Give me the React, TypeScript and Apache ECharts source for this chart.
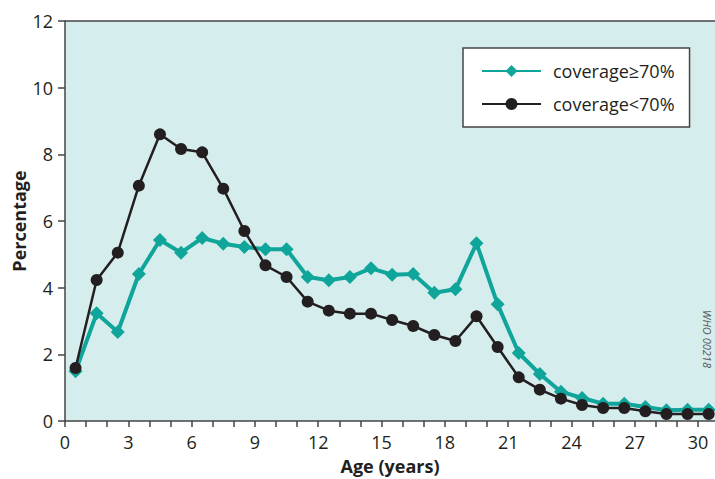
import React, { useEffect, useRef } from "react";
import * as echarts from "echarts";

const ages = [0.5, 1.5, 2.5, 3.5, 4.5, 5.5, 6.5, 7.5, 8.5, 9.5, 10.5, 11.5, 12.5, 13.5, 14.5, 15.5, 16.5, 17.5, 18.5, 19.5, 20.5, 21.5, 22.5, 23.5, 24.5, 25.5, 26.5, 27.5, 28.5, 29.5, 30.5];
const coverageHigh = [1.49, 3.23, 2.67, 4.41, 5.43, 5.05, 5.49, 5.32, 5.22, 5.15, 5.15, 4.32, 4.22, 4.32, 4.58, 4.39, 4.41, 3.85, 3.95, 5.33, 3.5, 2.04, 1.41, 0.88, 0.69, 0.52, 0.52, 0.42, 0.32, 0.34, 0.34];
const coverageLow = [1.59, 4.23, 5.05, 7.06, 8.6, 8.16, 8.06, 6.97, 5.7, 4.67, 4.32, 3.58, 3.31, 3.22, 3.22, 3.03, 2.85, 2.58, 2.4, 3.14, 2.22, 1.31, 0.94, 0.67, 0.48, 0.39, 0.39, 0.29, 0.21, 0.21, 0.21];
const xLabelValues = [0, 3, 6, 9, 12, 15, 18, 21, 24, 27, 30];
const xTickValues = [0, 1, 2, 3, 4, 5, 6, 7, 8, 9, 10, 11, 12, 13, 14, 15, 16, 17, 18, 19, 20, 21, 22, 23, 24, 25, 26, 27, 28, 29, 30];
const seriesNames = ["coverage\u226570%", "coverage<70%"];

const TEAL = "#10a59a";
const DARK = "#231f20";
const AXIS = "#444444";
const FONT = "'Open Sans', 'Noto Sans', sans-serif";

export default function App() {
  const ref = useRef<HTMLDivElement>(null);
  useEffect(() => {
    document.body.style.margin = "0";
    document.body.style.overflow = "hidden";
    if (!ref.current) return;
    const chart = echarts.init(ref.current, undefined, { renderer: "svg" });
    chart.setOption({
      animation: false,
      grid: {
        left: 65,
        right: 0,
        top: 21,
        bottom: 58,
        outerBoundsMode: "none",
        containLabel: false,
        show: true,
        backgroundColor: "#d5eded",
        borderWidth: 0,
      },
      legend: {
        orient: "vertical",
        left: 463,
        top: 48,
        backgroundColor: "#ffffff",
        borderColor: AXIS,
        borderWidth: 1.5,
        padding: [14, 15, 14, 18],
        itemWidth: 59,
        itemHeight: 15,
        itemGap: 15,
        textStyle: { fontSize: 18, fontFamily: FONT, color: DARK, padding: [0, 0, 0, 7] },
        data: seriesNames,
      },
      xAxis: {
        type: "value",
        min: 0,
        max: 30.8,
        name: "Age (years)",
        nameLocation: "middle",
        nameGap: 36,
        nameMoveOverlap: false,
        nameTextStyle: { fontSize: 18, fontWeight: "bold", fontFamily: FONT, color: DARK },
        axisLine: { show: true, lineStyle: { color: AXIS, width: 1.5 } },
        axisTick: { show: true, length: 6, lineStyle: { color: AXIS, width: 1.5 }, customValues: xTickValues },
        axisLabel: { fontSize: 18, fontFamily: FONT, color: DARK, margin: 12, customValues: xLabelValues },
        splitLine: { show: false },
      },
      yAxis: {
        type: "value",
        min: 0,
        max: 12,
        interval: 2,
        name: "Percentage",
        nameLocation: "middle",
        nameGap: 37,
        nameMoveOverlap: false,
        nameTextStyle: { fontSize: 18, fontWeight: "bold", fontFamily: FONT, color: DARK },
        axisLine: { show: true, lineStyle: { color: AXIS, width: 1.5 } },
        axisTick: { show: true, length: 7, lineStyle: { color: AXIS, width: 1.5 } },
        axisLabel: { fontSize: 18, fontFamily: FONT, color: DARK, margin: 12 },
        splitLine: { show: false },
      },
      graphic: [
        {
          type: "line",
          shape: { x1: 65, y1: 21, x2: 715, y2: 21 },
          style: { stroke: AXIS, lineWidth: 1.5 },
          z: 10,
        },
        {
          type: "text",
          x: 707,
          y: 310,
          rotation: -Math.PI / 2,
          style: {
            text: "WHO 00218",
            fontSize: 11,
            fontStyle: "italic",
            fontFamily: FONT,
            fill: "#555555",
            align: "left",
            verticalAlign: "middle",
          },
          z: 10,
        },
      ],
      series: [
        {
          name: seriesNames[0],
          type: "line",
          data: ages.map((a, i) => [a, coverageHigh[i]]),
          symbol: "diamond",
          symbolSize: 14,
          lineStyle: { color: TEAL, width: 4 },
          itemStyle: { color: TEAL },
          z: 2,
        },
        {
          name: seriesNames[1],
          type: "line",
          data: ages.map((a, i) => [a, coverageLow[i]]),
          symbol: "circle",
          symbolSize: 12,
          lineStyle: { color: DARK, width: 2.5 },
          itemStyle: { color: DARK },
          z: 3,
        },
      ],
    });
    return () => chart.dispose();
  }, []);
  return <div ref={ref} style={{ width: 715, height: 479 }} />;
}
